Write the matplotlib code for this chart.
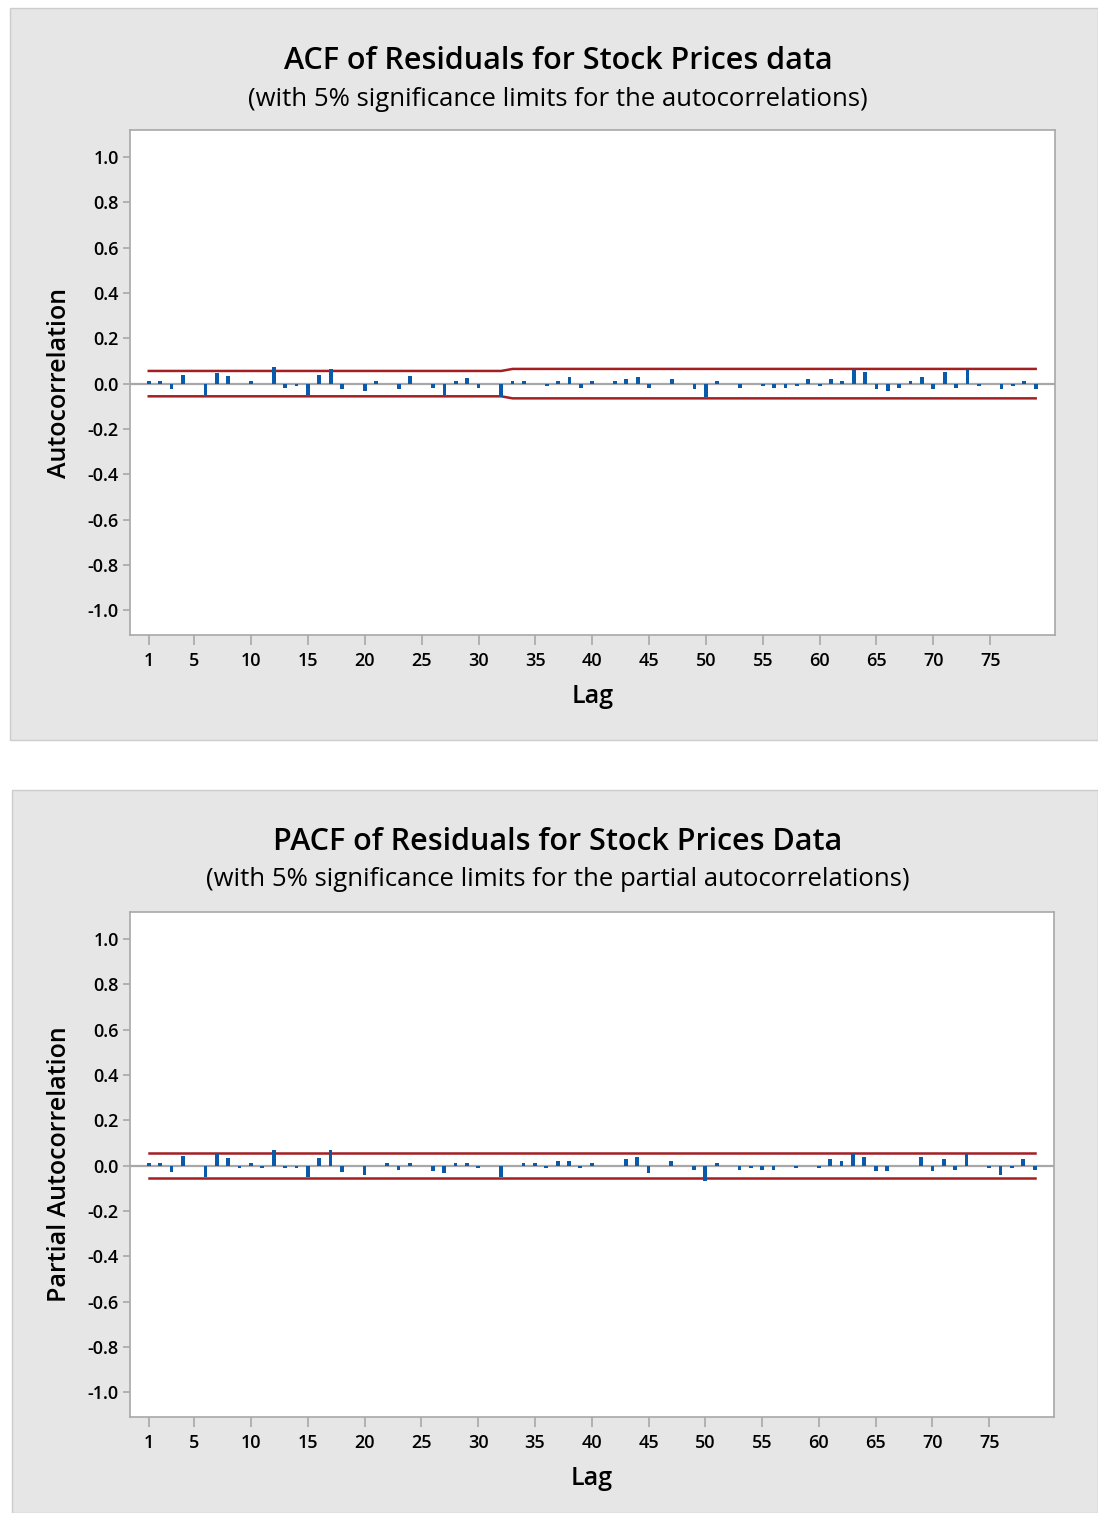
import numpy as np
import matplotlib.pyplot as plt
from matplotlib.patches import Rectangle

plt.rcParams['font.family'] = ['Open Sans', 'DejaVu Sans']

lags = list(range(1, 80))

acf_vals = [0.012, 0.012, -0.025, 0.040, 0.0, -0.049, 0.048, 0.034, 0.0, 0.010,
            0.0, 0.075, -0.019, -0.012, -0.049, 0.040, 0.066, -0.025, 0.0, -0.034,
            0.010, 0.0, -0.025, 0.034, 0.0, -0.020, -0.049, 0.010, 0.025, -0.020,
            0.0, -0.058, 0.010, 0.010, 0.0, -0.012, 0.010, 0.030, -0.020, 0.010,
            0.0, 0.010, 0.020, 0.030, -0.020, 0.0, 0.020, 0.0, -0.025, -0.058,
            0.010, 0.0, -0.018, 0.0, -0.012, -0.018, -0.018, -0.012, 0.020, -0.012,
            0.020, 0.010, 0.059, 0.050, -0.025, -0.034, -0.020, 0.010, 0.030, -0.025,
            0.050, -0.020, 0.059, -0.012, 0.0, -0.025, -0.012, 0.010, -0.025]

acf_limits = [0.056] * 32 + [0.065] * 47

pacf_vals = [0.012, 0.012, -0.027, 0.041, 0.0, -0.049, 0.052, 0.034, -0.012, 0.010,
             -0.012, 0.068, -0.012, -0.012, -0.049, 0.034, 0.068, -0.027, 0.0, -0.041,
             0.0, 0.010, -0.018, 0.010, 0.0, -0.025, -0.034, 0.010, 0.010, -0.012,
             0.0, -0.048, 0.0, 0.010, 0.010, -0.012, 0.020, 0.020, -0.012, 0.010,
             0.0, 0.0, 0.030, 0.040, -0.034, 0.0, 0.020, 0.0, -0.018, -0.066,
             0.010, 0.0, -0.018, -0.012, -0.018, -0.018, 0.0, -0.012, 0.0, -0.012,
             0.030, 0.020, 0.050, 0.040, -0.025, -0.025, 0.0, 0.0, 0.040, -0.025,
             0.030, -0.018, 0.057, 0.0, -0.012, -0.041, -0.012, 0.030, -0.018]

pacf_limits = [0.056] * 79

xticks = [1, 5, 10, 15, 20, 25, 30, 35, 40, 45, 50, 55, 60, 65, 70, 75]
yticks = [1.0, 0.8, 0.6, 0.4, 0.2, 0.0, -0.2, -0.4, -0.6, -0.8, -1.0]

W, H = 1098, 1513
BAR = '#0a5aab'
LIM = '#a31f22'
GRID = '#a8a8a8'

fig = plt.figure(figsize=(W / 100, H / 100), dpi=100)
fig.patch.set_facecolor('white')


def panel(x0, y0, x1, y1):
    fig.patches.append(Rectangle((x0 / W, 1 - y1 / H), (x1 - x0) / W, (y1 - y0) / H,
                                 transform=fig.transFigure, facecolor='#e6e6e6',
                                 edgecolor='#cccccc', linewidth=1, zorder=-5))


def draw(box, vals, limits, title, subtitle, ylabel, ty):
    x0, y0, x1, y1 = box
    ax = fig.add_axes([x0 / W, 1 - y1 / H, (x1 - x0) / W, (y1 - y0) / H])
    ax.set_facecolor('white')
    ax.axhline(0, color=GRID, lw=1.6, zorder=1)
    ax.bar(lags, vals, width=0.33, color=BAR, zorder=3)
    lim = np.array(limits)
    ax.plot(lags, lim, color=LIM, lw=1.8, zorder=2)
    ax.plot(lags, -lim, color=LIM, lw=1.8, zorder=2)
    ax.set_xlim(-0.65, 80.7)
    ax.set_ylim(-1.11, 1.12)
    ax.set_xticks(xticks)
    ax.set_xticklabels([str(t) for t in xticks], fontweight='semibold')
    ax.set_yticks(yticks)
    ax.set_yticklabels(['%.1f' % t for t in yticks], fontweight='semibold')
    ax.tick_params(direction='out', color=GRID, labelsize=13, width=1.2)
    ax.tick_params(axis='x', length=7, pad=5)
    ax.tick_params(axis='y', length=5, pad=3)
    for s in ax.spines.values():
        s.set_color(GRID)
        s.set_linewidth(1.2)
    ax.set_xlabel('Lag', fontsize=18, labelpad=10, fontweight='semibold')
    ax.set_ylabel(ylabel, fontsize=18, labelpad=11, fontweight='semibold')
    fig.text(558 / W, 1 - ty / H, title, fontsize=22, ha='center', va='center',
             fontweight='semibold')
    fig.text(558 / W, 1 - (ty + 38) / H, subtitle, fontsize=18.5, ha='center', va='center')
    return ax


panel(10, 8, 1098, 740)
panel(12, 790, 1098, 1513)

draw((130, 130, 1055, 635), acf_vals, acf_limits,
     'ACF of Residuals for Stock Prices data',
     '(with 5% significance limits for the autocorrelations)',
     'Autocorrelation', 61)
draw((130, 912, 1054, 1417), pacf_vals, pacf_limits,
     'PACF of Residuals for Stock Prices Data',
     '(with 5% significance limits for the partial autocorrelations)',
     'Partial Autocorrelation', 842)

fig.savefig('out.png', dpi=100)
